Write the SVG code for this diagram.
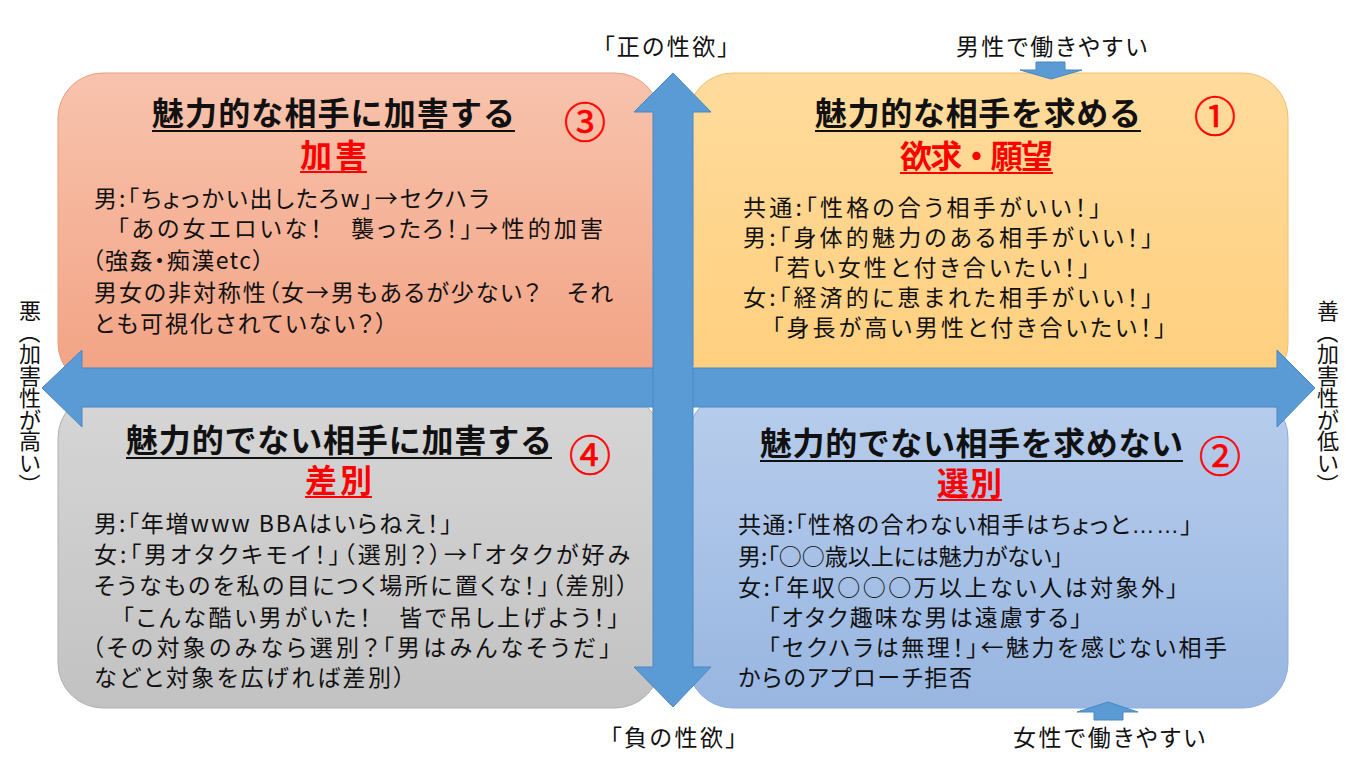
<svg xmlns="http://www.w3.org/2000/svg" width="1355" height="767" viewBox="0 0 1355 767">
<style>
text{font-family:"Noto Sans CJK JP","Liberation Sans",sans-serif;fill:#111;}
.title{font-size:32px;font-weight:bold;}
.sub{font-size:32px;font-weight:bold;fill:#FF0000;}
.num{font-size:42px;fill:#FF0000;stroke:#FF0000;stroke-width:0.6;text-anchor:middle;}
.body{font-size:23px;font-feature-settings:"palt";}
.lbl{font-size:23px;font-feature-settings:"palt";}
.side{font-size:22px;}
.ul{stroke:#111;stroke-width:2;}
.ulr{stroke:#FF0000;stroke-width:2;}
.arrow{fill:#5B9BD5;stroke:#4A87C2;stroke-width:1;}
</style>
<defs>
<linearGradient id="gTL" x1="0" y1="0" x2="0" y2="1"><stop offset="0" stop-color="#F8C3AD"/><stop offset="1" stop-color="#F2A283"/></linearGradient>
<linearGradient id="gTR" x1="0" y1="0" x2="0" y2="1"><stop offset="0" stop-color="#FFDB9C"/><stop offset="1" stop-color="#FFCF7D"/></linearGradient>
<linearGradient id="gBL" x1="0" y1="0" x2="0" y2="1"><stop offset="0" stop-color="#D6D6D6"/><stop offset="1" stop-color="#C2C2C2"/></linearGradient>
<linearGradient id="gBR" x1="0" y1="0" x2="0" y2="1"><stop offset="0" stop-color="#B8CDEC"/><stop offset="1" stop-color="#98B6E1"/></linearGradient>
</defs>
<rect width="1355" height="767" fill="#FFFFFF"/>

<g id="node-harm">
<rect x="58" y="73" width="602" height="315" rx="45" fill="url(#gTL)" stroke="#E99E7E" stroke-width="1"/>
<text class="title" x="152" y="125" textLength="363">魅力的な相手に加害する</text>
<line class="ul" x1="152" y1="131" x2="515" y2="131"/>
<text class="num" x="585" y="138">③</text>
<text class="sub" x="300" y="167" textLength="67">加害</text>
<line class="ulr" x1="300" y1="172" x2="367" y2="172"/>
<text class="body" x="94" y="207" textLength="395">男:「ちょっかい出したろw」→セクハラ</text>
<text class="body" x="117" y="237" textLength="486">「あの女エロいな！　襲ったろ！」→性的加害</text>
<text class="body" x="92" y="269" textLength="172">（強姦・痴漢etc）</text>
<text class="body" x="94" y="301" textLength="519">男女の非対称性（女→男もあるが少ない？　それ</text>
<text class="body" x="94" y="332" textLength="293">とも可視化されていない？）</text>
</g>

<g id="node-desire">
<rect x="688" y="73" width="600" height="315" rx="45" fill="url(#gTR)" stroke="#F2C06A" stroke-width="1"/>
<text class="title" x="815" y="125" textLength="326">魅力的な相手を求める</text>
<line class="ul" x1="815" y1="131" x2="1141" y2="131"/>
<text class="num" x="1215" y="132">①</text>
<text class="sub" x="900" y="168" textLength="153">欲求・願望</text>
<line class="ulr" x1="900" y1="173" x2="1053" y2="173"/>
<text class="body" x="743" y="216" textLength="358">共通:「性格の合う相手がいい！」</text>
<text class="body" x="743" y="246" textLength="410">男:「身体的魅力のある相手がいい！」</text>
<text class="body" x="772" y="276" textLength="318">「若い女性と付き合いたい！」</text>
<text class="body" x="743" y="306" textLength="410">女:「経済的に恵まれた相手がいい！」</text>
<text class="body" x="772" y="336" textLength="394">「身長が高い男性と付き合いたい！」</text>
</g>

<g id="node-discrimination">
<rect x="58" y="393" width="602" height="315" rx="45" fill="url(#gBL)" stroke="#B0B0B0" stroke-width="1"/>
<text class="title" x="126" y="452" textLength="426">魅力的でない相手に加害する</text>
<line class="ul" x1="126" y1="458" x2="552" y2="458"/>
<text class="num" x="590" y="471">④</text>
<text class="sub" x="305" y="492" textLength="67">差別</text>
<line class="ulr" x1="305" y1="497" x2="372" y2="497"/>
<text class="body" x="94" y="532" textLength="358">男:「年増www BBAはいらねえ！」</text>
<text class="body" x="94" y="563" textLength="536">女:「男オタクキモイ！」（選別？）→「オタクが好み</text>
<text class="body" x="94" y="594" textLength="534">そうなものを私の目につく場所に置くな！」（差別）</text>
<text class="body" x="122" y="626" textLength="497">「こんな酷い男がいた！　皆で吊し上げよう！」</text>
<text class="body" x="92" y="656" textLength="519">（その対象のみなら選別？「男はみんなそうだ」</text>
<text class="body" x="94" y="686" textLength="311">などと対象を広げれば差別）</text>
</g>

<g id="node-selection">
<rect x="688" y="393" width="600" height="315" rx="45" fill="url(#gBR)" stroke="#8EADDA" stroke-width="1"/>
<text class="title" x="760" y="455" textLength="423">魅力的でない相手を求めない</text>
<line class="ul" x1="760" y1="461" x2="1183" y2="461"/>
<text class="num" x="1220" y="472">②</text>
<text class="sub" x="937" y="495" textLength="65">選別</text>
<line class="ulr" x1="937" y1="500" x2="1002" y2="500"/>
<text class="body" x="738" y="533" textLength="454">共通:「性格の合わない相手はちょっと<tspan font-family="Liberation Sans">……</tspan>」</text>
<text class="body" x="738" y="565" textLength="325">男:「○○歳以上には魅力がない」</text>
<text class="body" x="738" y="596" textLength="440">女:「年収○○○万以上ない人は対象外」</text>
<text class="body" x="768" y="626" textLength="314">「オタク趣味な男は遠慮する」</text>
<text class="body" x="768" y="656" textLength="459">「セクハラは無理！」←魅力を感じない相手</text>
<text class="body" x="738" y="686" textLength="234">からのアプローチ拒否</text>
</g>

<g id="labels">
<text class="lbl" x="603" y="55" textLength="126">「正の性欲」</text>
<text class="lbl" x="956" y="55" textLength="191">男性で働きやすい</text>
<text class="lbl" x="610" y="746" textLength="127">「負の性欲」</text>
<text class="lbl" x="1013" y="746" textLength="192">女性で働きやすい</text>
<text class="side"><tspan x="19" y="319">悪</tspan><tspan x="22" y="321.7" rotate="90">（</tspan><tspan x="19" y="362.4">加</tspan><tspan x="19" y="384.1">害</tspan><tspan x="19" y="405.8">性</tspan><tspan x="19" y="427.5">が</tspan><tspan x="19" y="449.2">高</tspan><tspan x="19" y="470.9">い</tspan><tspan x="22" y="473.6" rotate="90">）</tspan></text>
<text class="side"><tspan x="1317" y="319">善</tspan><tspan x="1320" y="321.7" rotate="90">（</tspan><tspan x="1317" y="362.4">加</tspan><tspan x="1317" y="384.1">害</tspan><tspan x="1317" y="405.8">性</tspan><tspan x="1317" y="427.5">が</tspan><tspan x="1317" y="449.2">低</tspan><tspan x="1317" y="470.9">い</tspan><tspan x="1320" y="473.6" rotate="90">）</tspan></text>
</g>

<g id="connectors">
<polygon class="arrow" points="42,388 82,350 82,368 1277,368 1277,350 1315,388 1277,427 1277,407 82,407 82,427"/>
<polygon class="arrow" points="673,73 711,112 693,112 693,667 711,667 673,707 634,667 653,667 653,112 634,112"/>
<polygon class="arrow" points="1036,62 1065,62 1065,70 1082,70 1051,79 1020,70 1036,70"/>
<polygon class="arrow" points="1108,702 1138,712 1123,712 1123,720 1094,720 1094,712 1077,712"/>
</g>
</svg>
